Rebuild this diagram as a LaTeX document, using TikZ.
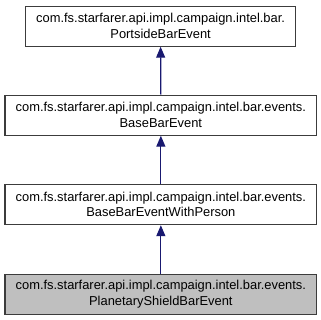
\documentclass[tikz,border=0pt]{standalone}
\usepackage{fontspec}
\setmainfont{Liberation Sans}
\usetikzlibrary{arrows.meta}
\definecolor{edgeblue}{HTML}{191970}
\definecolor{boxline}{HTML}{3C3C3C}
\definecolor{hlfill}{HTML}{BFBFBF}
\begin{document}
\begin{tikzpicture}[x=1bp,y=-1bp,
  cls/.style={draw=boxline, line width=1.2bp, fill=white, minimum height=40bp,
    inner sep=0pt, align=center, font=\fontsize{12.9bp}{15.5bp}\selectfont, anchor=north west},
  inherit/.style={draw=edgeblue, line width=1.2bp, -{Triangle[length=11bp,width=9bp]}}]
  \useasboundingbox (0,0) rectangle (321,320);
  \node[cls, minimum width=270bp] (portside) at (25,5.5)
    {com.fs.starfarer.api.impl.campaign.intel.bar.\\PortsideBarEvent};
  \node[cls, minimum width=311.5bp] (base) at (4.5,94.5)
    {com.fs.starfarer.api.impl.campaign.intel.bar.events.\\BaseBarEvent};
  \node[cls, minimum width=311.5bp] (person) at (4.5,184)
    {com.fs.starfarer.api.impl.campaign.intel.bar.events.\\BaseBarEventWithPerson};
  \node[cls, minimum width=311.5bp, fill=hlfill] (shield) at (4.5,273.5)
    {com.fs.starfarer.api.impl.campaign.intel.bar.events.\\PlanetaryShieldBarEvent};
  \draw[inherit] (base.north) -- (portside.south);
  \draw[inherit] (person.north) -- (base.south);
  \draw[inherit] (shield.north) -- (person.south);
\end{tikzpicture}
\end{document}
